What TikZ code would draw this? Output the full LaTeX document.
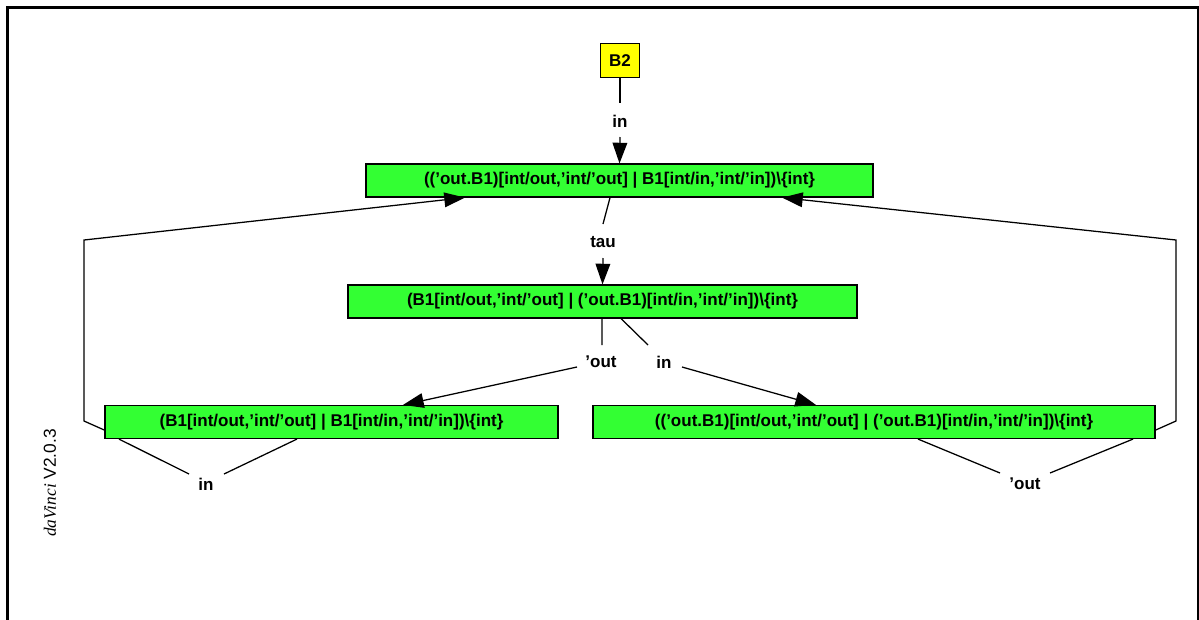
\documentclass[tikz,border=0pt]{standalone}
\usepackage{fontspec}
\setmainfont{Liberation Sans}
\newfontfamily\versionserif{Liberation Serif}
\usetikzlibrary{arrows.meta}
\definecolor{stategreen}{HTML}{33FF33}
\definecolor{rootyellow}{HTML}{FFFF00}

\begin{document}
\begin{tikzpicture}[x=0.75pt,y=-0.75pt,
  every node/.style={font=\fontsize{12.75}{15}\selectfont\bfseries},
  state/.style={draw=black, line width=1.1pt, fill=stategreen, inner sep=0pt, minimum height=24.5pt},
  root/.style={draw=black, line width=1.1pt, fill=rootyellow, inner sep=0pt, minimum width=29pt, minimum height=25.5pt},
  lbl/.style={inner sep=0pt},
  edge/.style={draw=black, line width=0.95pt},
  arc/.style={edge, -{Triangle[length=15.5pt,width=11pt]}}
]
\useasboundingbox (0,0) rectangle (1199,619);

% outer frame, open at the bottom
\begin{scope}
  \clip (0,0) rectangle (1199,619);
  \draw[line width=2.25pt] (7.5,700) -- (7.5,7.5) -- (1198.5,7.5) -- (1198.5,700);
\end{scope}

% states
\node[root] (b2) at (620,60.5) {B2};
\node[state, minimum width=380.25pt] (top) at (619.5,180.5)
  {((’out.B1)[int/out,’int/’out] | B1[int/in,’int/’in])\textbackslash\{int\}};
\node[state, minimum width=381.75pt] (mid) at (602.5,301.5)
  {(B1[int/out,’int/’out] | (’out.B1)[int/in,’int/’in])\textbackslash\{int\}};
\node[state, minimum width=339.75pt] (left) at (331.5,422)
  {(B1[int/out,’int/’out] | B1[int/in,’int/’in])\textbackslash\{int\}};
\node[state, minimum width=421.5pt] (right) at (874,422)
  {((’out.B1)[int/out,’int/’out] | (’out.B1)[int/in,’int/’in])\textbackslash\{int\}};

% edge labels
\node[lbl] (lin) at (620,121) {in};
\node[lbl] (ltau) at (603,242) {tau};
\node[lbl] (lout) at (601,362) {’out};
\node[lbl] (lin2) at (664,362) {in};
\node[lbl] (lloopl) at (206,484) {in};
\node[lbl] (lloopr) at (1025,484) {’out};

% label ends and bends
\coordinate (inA) at (620,103);
\coordinate (inB) at (620,137);
\coordinate (tauA) at (603,224);
\coordinate (tauB) at (603,258);
\coordinate (outA) at (602,345);
\coordinate (outB) at (577,367);
\coordinate (in2A) at (648,345);
\coordinate (in2B) at (682,367);
\coordinate (lbendA) at (84,421);
\coordinate (lbendB) at (84,240);
\coordinate (rbendA) at (1176,421);
\coordinate (rbendB) at (1176,240);
\coordinate (loopLA) at (189,474);
\coordinate (loopLB) at (224,474);
\coordinate (loopRA) at (1000,473);
\coordinate (loopRB) at (1050,473);

% B2 --in--> top
\draw[edge] (b2.south) -- (inA);
\draw[arc] (inB) -- (top.north);

% top --tau--> mid
\draw[edge] ([xshift=-7.1pt]top.south) -- (tauA);
\draw[arc] (tauB) -- (mid.north);

% mid --'out--> left
\draw[edge] ([xshift=-0.4pt]mid.south) -- (outA);
\draw[arc] (outB) -- ([xshift=53.6pt]left.north);

% mid --in--> right
\draw[edge] ([xshift=13.9pt]mid.south) -- (in2A);
\draw[arc] (in2B) -- ([xshift=-43.5pt]right.north);

% left --> top, routed round the left side
\draw[arc] ([yshift=-6pt]left.west) -- (lbendA) -- (lbendB) -- ([xshift=-115.9pt]top.south);

% right --> top, routed round the right side
\draw[arc] ([yshift=-6pt]right.east) -- (rbendA) -- (rbendB) -- ([xshift=121.9pt]top.south);

% self loops
\draw[edge] ([xshift=-159.4pt]left.south) -- (loopLA);
\draw[edge] (loopLB) -- ([xshift=-25.9pt]left.south);
\draw[edge] ([xshift=33pt]right.south) -- (loopRA);
\draw[edge] (loopRB) -- ([xshift=194.25pt]right.south);

% version stamp
\node[rotate=90, inner sep=0pt, font=\fontsize{13}{15}\selectfont] (stamp) at (50,483)
  {{\versionserif\itshape daVinci} V2.0.3};
\end{tikzpicture}
\end{document}
